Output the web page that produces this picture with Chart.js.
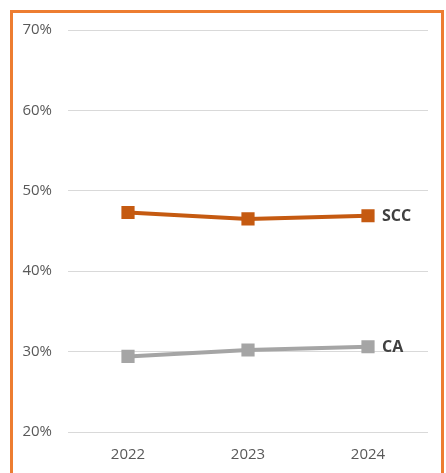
<!DOCTYPE html>
<html>
<head>
<meta charset="UTF-8">
<script src="https://cdn.jsdelivr.net/npm/chart.js"></script>
<style>
  html, body { margin: 0; padding: 0; background: #fff; }
  body { width: 446px; height: 473px; position: relative; overflow: hidden; }
  .frame { position: absolute; left: 10px; top: 10px; width: 428px; height: 480px; border: 3px solid #ED7D31; }
  #wrap { position: absolute; left: 0; top: 0; width: 446px; height: 473px; }
</style>
</head>
<body>
<div class="frame"></div>
<div id="wrap"><canvas id="c"></canvas></div>
<script>
const years = ['2022', '2023', '2024'];
const scc = [47.3, 46.5, 46.9];
const ca = [29.4, 30.2, 30.6];
const seriesNames = ['SCC', 'CA'];

// write the series name next to the last point
const endLabels = {
  id: 'endLabels',
  afterDatasetsDraw(chart) {
    const ctx = chart.ctx;
    ctx.save();
    ctx.font = 'bold 16px "Open Sans"';
    ctx.fillStyle = '#404040';
    ctx.textBaseline = 'middle';
    chart.data.datasets.forEach((ds, i) => {
      const pts = chart.getDatasetMeta(i).data;
      const p = pts[pts.length - 1];
      ctx.fillText(ds.label, p.x + 14, p.y + 1);
    });
    ctx.restore();
  }
};

new Chart(document.getElementById('c'), {
  type: 'line',
  data: {
    labels: years,
    datasets: [
      { label: seriesNames[0], data: scc, borderColor: '#C55A11', backgroundColor: '#C55A11',
        borderWidth: 4, pointStyle: 'rect', pointRadius: 6.5, pointHoverRadius: 6.5, tension: 0 },
      { label: seriesNames[1], data: ca, borderColor: '#A5A5A5', backgroundColor: '#A5A5A5',
        borderWidth: 4, pointStyle: 'rect', pointRadius: 6.5, pointHoverRadius: 6.5, tension: 0 }
    ]
  },
  options: {
    responsive: true,
    maintainAspectRatio: false,
    animation: false,
    layout: { padding: { top: 30, right: 18, left: 0, bottom: 0 } },
    plugins: { legend: { display: false }, tooltip: { enabled: false } },
    scales: {
      x: {
        offset: true,
        grid: { display: false, drawTicks: false },
        border: { display: false },
        ticks: { color: '#595959', font: { family: 'Open Sans', size: 15 }, padding: 14 },
        afterFit(s) { s.height = 41; }
      },
      y: {
        min: 20, max: 70,
        grid: { color: '#D9D9D9', lineWidth: 1, drawTicks: false },
        border: { display: false },
        ticks: { stepSize: 10, color: '#595959', font: { family: 'Open Sans', size: 15 }, padding: 16,
          callback: v => v + '%' },
        afterFit(s) { s.width = 68; }
      }
    }
  },
  plugins: [endLabels]
});
</script>
</body>
</html>
